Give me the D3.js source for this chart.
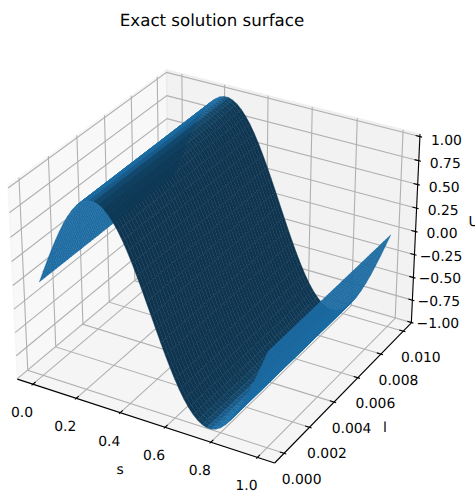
<!DOCTYPE html>
<html><head><meta charset="utf-8">
<style>html,body{margin:0;padding:0;background:#fff}svg{display:block}text{font-family:"DejaVu Sans";fill:#000;text-rendering:geometricPrecision;opacity:.98}</style>
<script src="https://cdn.jsdelivr.net/npm/d3@7"></script></head><body><svg id="c" width="475" height="491"></svg>
<script>
const sValues=[0,.02,.04,.06,.08,.1,.12,.14,.16,.18,.2,.22,.24,.26,.28,.3,.32,.34,.36,.38,.4,.42,.44,.46,.48,.5,.52,.54,.56,.58,.6,.62,.64,.66,.68,.7,.72,.74,.76,.78,.8,.82,.84,.86,.88,.9,.92,.94,.96,.98,1];
const uProfile=[0,.125,.249,.368,.482,.588,.685,.771,.844,.905,.951,.982,.998,.998,.982,.951,.905,.844,.771,.685,.588,.482,.368,.249,.125,0,-.125,-.249,-.368,-.482,-.588,-.685,-.771,-.844,-.905,-.951,-.982,-.998,-.998,-.982,-.951,-.905,-.844,-.771,-.685,-.588,-.482,-.368,-.249,-.125,0];
const lValues=[0,.0002,.0004,.0006,.0008,.001,.0012,.0014,.0016,.0018,.002,.0022,.0024,.0026,.0028,.003,.0032,.0034,.0036,.0038,.004,.0042,.0044,.0046,.0048,.005,.0052,.0054,.0056,.0058,.006,.0062,.0064,.0066,.0068,.007,.0072,.0074,.0076,.0078,.008,.0082,.0084,.0086,.0088,.009,.0092,.0094,.0096,.0098,.01];
const sTicks=[0,.2,.4,.6,.8,1];
const lTicks=[0,.002,.004,.006,.008,.01];
const uTicks=[-1,-.75,-.5,-.25,0,.25,.5,.75,1];
const xLim=[-.0729,1.0729], yLim=[-.000729,.010729], zLim=[-1.005,1.025];

const svg=d3.select("#c");
// camera: elev 30, azim -60, box aspect 4:4:3, distance 10
const k=1.8294640721620434*25/24/Math.hypot(4,4,3), box=[4*k,4*k,3*k];
const el=30*Math.PI/180, az=-60*Math.PI/180, dist=10;
const R=box.map(b=>b/2);
const eye=[R[0]+dist*Math.cos(el)*Math.cos(az),R[1]+dist*Math.cos(el)*Math.sin(az),R[2]+dist*Math.sin(el)];
const norm=v=>{const n=Math.hypot(...v);return v.map(a=>a/n)};
const cross=(a,b)=>[a[1]*b[2]-a[2]*b[1],a[2]*b[0]-a[0]*b[2],a[0]*b[1]-a[1]*b[0]];
const dot=(a,b)=>a[0]*b[0]+a[1]*b[1]+a[2]*b[2];
const w=norm(eye.map((e,i)=>e-R[i])), u=norm(cross([0,0,1],w)), v=cross(w,u);
const nx=d3.scaleLinear().domain(xLim).range([0,box[0]]),
      ny=d3.scaleLinear().domain(yLim).range([0,box[1]]),
      nz=d3.scaleLinear().domain(zLim).range([0,box[2]]);
function view(p){const q=[nx(p[0])-eye[0],ny(p[1])-eye[1],nz(p[2])-eye[2]];
  const vz=dot(w,q);return [dot(u,q)/-vz,dot(v,q)/-vz,-1/-vz];}
const [x0,x1]=xLim,[y0,y1]=yLim,[z0,z1]=zLim;
const sx=d3.scaleLinear().domain([view([x0,y0,z1])[0],view([x1,y1,z1])[0]]).range([8,420]);
const sy=d3.scaleLinear().domain([view([x1,y0,z0])[1],view([x0,y1,z1])[1]]).range([463,70]);
const P=p=>{const t=view(p);return [sx(t[0]),sy(t[1])]};
const line=pts=>d3.line()(pts.map(P));

// panes
const panes=[
 {c:"rgba(242,242,242,.5)",p:[[x0,y0,z0],[x0,y1,z0],[x0,y1,z1],[x0,y0,z1]]},
 {c:"rgba(230,230,230,.5)",p:[[x0,y1,z0],[x1,y1,z0],[x1,y1,z1],[x0,y1,z1]]},
 {c:"rgba(236,236,236,.5)",p:[[x0,y0,z0],[x1,y0,z0],[x1,y1,z0],[x0,y1,z0]]}];
svg.append("g").selectAll("path").data(panes).join("path")
  .attr("d",d=>line(d.p)+"Z").attr("fill",d=>d.c).attr("stroke",d=>d.c).attr("stroke-width",1.4);

// grid
const gridC="#b0b0b0",gridW=1.1;
const g=svg.append("g").attr("fill","none").attr("stroke",gridC).attr("stroke-width",gridW);
sTicks.forEach(t=>g.append("path").attr("d",line([[t,y0,z0],[t,y1,z0],[t,y1,z1]])));
lTicks.forEach(t=>g.append("path").attr("d",line([[x1,t,z0],[x0,t,z0],[x0,t,z1]])));
uTicks.forEach(t=>g.append("path").attr("d",line([[x0,y0,t],[x0,y1,t],[x1,y1,t]])));

// axes
const a=svg.append("g").attr("fill","none").attr("stroke","#000").attr("stroke-width",1.1);
a.append("path").attr("d",line([[x0,y0,z0],[x1,y0,z0]]));
a.append("path").attr("d",line([[x1,y0,z0],[x1,y1,z0]]));
a.append("path").attr("d",line([[x1,y1,z0],[x1,y1,z1]]));
const dX=(x1-x0)/12.5, dY=(y1-y0)/12.5;
sTicks.forEach(t=>a.append("path").attr("d",line([[t,y0+.2*dY,z0],[t,y0-.1*dY,z0]])));
lTicks.forEach(t=>a.append("path").attr("d",line([[x1-.2*dX,t,z0],[x1+.1*dX,t,z0]])));
uTicks.forEach(t=>a.append("path").attr("d",line([[x1-.2*dX,y1,t],[x1+.1*dX,y1,t]])));

// surface
const base=[31,119,180], light=[-.6667,-.6667,.3333];
const faces=[];
for(let i=0;i<sValues.length-1;i++)for(let j=0;j<lValues.length-1;j++){
  const pts=[[sValues[i],lValues[j],uProfile[i]],[sValues[i+1],lValues[j],uProfile[i+1]],
             [sValues[i+1],lValues[j+1],uProfile[i+1]],[sValues[i],lValues[j+1],uProfile[i]]];
  const n=norm(cross(pts[1].map((c,m)=>c-pts[0][m]),pts[3].map((c,m)=>c-pts[0][m])));
  const f=.3+.7*(dot(n,light)+1)/2;
  const depth=d3.mean(pts,p=>view(p)[2]);
  faces.push({pts,depth,fill:d3.rgb(base[0]*f,base[1]*f,base[2]*f).formatHex()});
}
faces.sort((A,B)=>d3.descending(A.depth,B.depth));
svg.append("g").selectAll("path").data(faces).join("path")
  .attr("d",d=>line(d.pts)+"Z").attr("fill",d=>d.fill).attr("stroke",d=>d.fill).attr("stroke-width",.4);

// text
const T=(x,y,s,o={})=>svg.append("text").attr("x",x).attr("y",y).attr("text-anchor",o.anchor||"middle")
  .attr("dominant-baseline","central").attr("font-size",o.size||13.9).text(s);
const minus=s=>s.replace("-","\u2212");
T(212,20,"Exact solution surface",{size:16.67});
sTicks.forEach(t=>{const p=P([t,y0,z0]);T(p[0]-11,p[1]+29,t.toFixed(1))});
lTicks.forEach(t=>{const p=P([x1,t,z0]);T(p[0]+17.5,p[1]+26.5,t.toFixed(3))});
uTicks.forEach(t=>{const p=P([x1,y1,t]);T(p[0]+26.5,p[1]+2.5+1.5*t,minus(t.toFixed(2)))});
T(120,470,"s");T(385,428,"l");T(468.5,222,"U",{anchor:"start"});
</script></body></html>
